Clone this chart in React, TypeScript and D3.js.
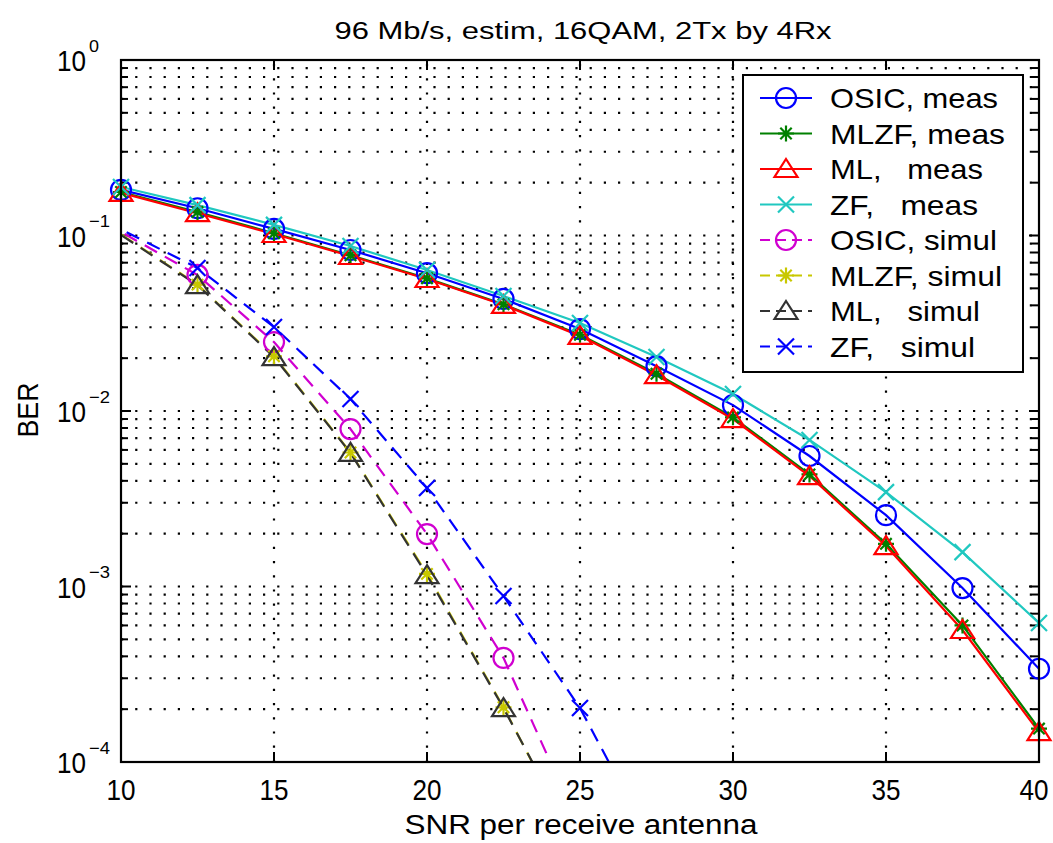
import React from "react";
import * as d3 from "d3";

const TITLE = "96 Mb/s, estim, 16QAM, 2Tx by 4Rx";
const X_LABEL = "SNR per receive antenna";
const Y_LABEL = "BER";
const X_TICKS = [10, 15, 20, 25, 30, 35, 40];
const Y_DECADES = [0, -1, -2, -3, -4];

const SNR_MEAS = [10, 12.5, 15, 17.5, 20, 22.5, 25, 27.5, 30, 32.5, 35, 37.5, 40];
const OSIC_MEAS = [0.182, 0.143, 0.109, 0.0827, 0.061, 0.0435, 0.0293, 0.018, 0.0108, 0.00554, 0.00255, 0.00098, 0.00034];
const MLZF_MEAS = [0.177, 0.136, 0.103, 0.0772, 0.057, 0.0405, 0.0272, 0.0163, 0.0092, 0.00435, 0.00175, 0.0006, 0.000155];
const ML_MEAS = [0.175, 0.134, 0.102, 0.0764, 0.0565, 0.0402, 0.0268, 0.016, 0.009, 0.00426, 0.0017, 0.000565, 0.000148];
const ZF_MEAS = [0.189, 0.149, 0.115, 0.0871, 0.0636, 0.0452, 0.0317, 0.0203, 0.0125, 0.00684, 0.00345, 0.00157, 0.00062];

const SNR_SIM = [7.5, 12.5, 15, 17.5, 20, 22.5, 25, 27.5];
const OSIC_SIM = [0.184, 0.0596, 0.0247, 0.00789, 0.00199, 0.000392, 0.000042];
const MLZF_SIM = [0.196, 0.0525, 0.0205, 0.0058, 0.00118, 0.000205, 0.00003];
const ML_SIM = [0.194, 0.0522, 0.0203, 0.00577, 0.00116, 0.000203, 0.000031];
const ZF_SIM = [0.18, 0.0653, 0.0301, 0.0117, 0.00364, 0.000883, 0.000203, 0.000031];

type Marker = "o" | "*" | "^" | "x";
interface Series { label: string; color: string; marker: Marker; dashed: boolean; xs: number[]; ys: number[]; tl: number; }

const SERIES: Series[] = [
  { label: "OSIC, meas", color: "#0000ff", marker: "o", dashed: false, xs: SNR_MEAS, ys: OSIC_MEAS, tl: 168 },
  { label: "MLZF, meas", color: "#008000", marker: "*", dashed: false, xs: SNR_MEAS, ys: MLZF_MEAS, tl: 175 },
  { label: "ML,   meas", color: "#ff0000", marker: "^", dashed: false, xs: SNR_MEAS, ys: ML_MEAS, tl: 153 },
  { label: "ZF,   meas", color: "#20c8c0", marker: "x", dashed: false, xs: SNR_MEAS, ys: ZF_MEAS, tl: 148 },
  { label: "OSIC, simul", color: "#d000d0", marker: "o", dashed: true, xs: SNR_SIM, ys: OSIC_SIM, tl: 167 },
  { label: "MLZF, simul", color: "#c8c800", marker: "*", dashed: true, xs: SNR_SIM, ys: MLZF_SIM, tl: 172 },
  { label: "ML,   simul", color: "#333333", marker: "^", dashed: true, xs: SNR_SIM, ys: ML_SIM, tl: 150 },
  { label: "ZF,   simul", color: "#0000ff", marker: "x", dashed: true, xs: SNR_SIM, ys: ZF_SIM, tl: 145 },
];

const L = 121, R = 1039, T = 60, B = 762;
const FONT = "'Liberation Sans', Arial, Helvetica, sans-serif";

function MarkerShape({ m, x, y, color }: { m: Marker; x: number; y: number; color: string }) {
  const sw = 2.2;
  if (m === "o") return <circle cx={x} cy={y} r={10} fill="none" stroke={color} strokeWidth={sw} />;
  if (m === "^") return <polygon points={`${x},${y - 10} ${x + 11.5},${y + 8} ${x - 11.5},${y + 8}`} fill="none" stroke={color} strokeWidth={sw} />;
  if (m === "x") { const s = 8; return <path d={`M${x - s},${y - s}L${x + s},${y + s}M${x - s},${y + s}L${x + s},${y - s}`} stroke={color} strokeWidth={sw} />; }
  const s = 8, d = 5.7;
  return <path d={`M${x},${y - s}L${x},${y + s}M${x - s},${y}L${x + s},${y}M${x - d},${y - d}L${x + d},${y + d}M${x - d},${y + d}L${x + d},${y - d}`} stroke={color} strokeWidth={sw} />;
}

export default function App() {
  const x = d3.scaleLinear().domain([10, 40]).range([L, R]);
  const y = d3.scaleLog().domain([1e-4, 1]).range([B, T]);
  const line = d3.line<[number, number]>().x(d => x(d[0])).y(d => y(d[1]));

  const minorVals: number[] = [];
  for (let e = -4; e < 0; e++) for (let k = 2; k <= 9; k++) minorVals.push(k * Math.pow(10, e));
  const majorVals = Y_DECADES.map(e => Math.pow(10, e));

  const dot = { stroke: "#000", strokeWidth: 2.2, strokeDasharray: "2.2,12" };
  const legRows = SERIES.map((_, i) => 98 + i * 35.5);

  return (
    <svg width={1053} height={843} style={{ display: "block", position: "absolute", left: 0, top: 0, background: "#fff" }} fontFamily={FONT}>
      <defs>
        <clipPath id="plotclip"><rect x={L} y={T} width={R - L} height={B - T} /></clipPath>
      </defs>
      <rect x={0} y={0} width={1053} height={843} fill="#fff" />
      {[...minorVals, ...majorVals.slice(1, 4)].map((v, i) => (
        <line key={"hg" + i} x1={L} x2={R} y1={y(v)} y2={y(v)} {...dot} />
      ))}
      {X_TICKS.slice(1, -1).map(t => (
        <line key={"vg" + t} x1={x(t)} x2={x(t)} y1={B} y2={T} {...dot} />
      ))}
      {X_TICKS.map(t => (
        <g key={"xt" + t}>
          <line x1={x(t)} x2={x(t)} y1={B} y2={B - 10} stroke="#000" strokeWidth={2} />
          <line x1={x(t)} x2={x(t)} y1={T} y2={T + 10} stroke="#000" strokeWidth={2} />
          <text x={Math.min(x(t), 1034)} y={800} textAnchor="middle" fontSize={30} textLength={29} lengthAdjust="spacingAndGlyphs">{t}</text>
        </g>
      ))}
      {minorVals.map((v, i) => (
        <g key={"ym" + i}>
          <line x1={L} x2={L + 7} y1={y(v)} y2={y(v)} stroke="#000" strokeWidth={2} />
          <line x1={R} x2={R - 7} y1={y(v)} y2={y(v)} stroke="#000" strokeWidth={2} />
        </g>
      ))}
      {Y_DECADES.map(e => {
        const yy = y(Math.pow(10, e));
        return (
          <g key={"yM" + e}>
            <line x1={L} x2={L + 10} y1={yy} y2={yy} stroke="#000" strokeWidth={2} />
            <line x1={R} x2={R - 10} y1={yy} y2={yy} stroke="#000" strokeWidth={2} />
            <text x={57} y={yy + 11} fontSize={30} textLength={29} lengthAdjust="spacingAndGlyphs">10</text>
            <text x={89} y={yy - 8.5} fontSize={17} textLength={e === 0 ? 10 : 21} lengthAdjust="spacingAndGlyphs">{e === 0 ? "0" : "\u2212" + (-e)}</text>
          </g>
        );
      })}
      <g clipPath="url(#plotclip)">
        {SERIES.map((s, i) => {
          const pts: [number, number][] = s.ys.map((v, j) => [s.xs[j], v]);
          return <path key={"ln" + i} d={line(pts) || ""} fill="none" stroke={s.color} strokeWidth={2.2} strokeDasharray={s.dashed ? "14,9" : undefined} />;
        })}
      </g>
      {SERIES.map((s, i) => (
        <g key={"mk" + i}>
          {s.ys.map((v, j) => (s.xs[j] >= 10 && s.xs[j] <= 40 && v >= 1e-4 ?
            <MarkerShape key={j} m={s.marker} x={x(s.xs[j])} y={y(v)} color={s.color} /> : null))}
        </g>
      ))}
      <rect x={L} y={T} width={R - L} height={B - T} fill="none" stroke="#000" strokeWidth={2.2} />
      <rect x={743} y={75} width={280} height={297} fill="#fff" stroke="#000" strokeWidth={2} />
      {SERIES.map((s, i) => (
        <g key={"lg" + i}>
          <line x1={760} x2={812} y1={legRows[i]} y2={legRows[i]} stroke={s.color} strokeWidth={2.2} strokeDasharray={s.dashed ? "10,6" : undefined} />
          <MarkerShape m={s.marker} x={786} y={legRows[i]} color={s.color} />
          <text x={830} y={legRows[i] + 10} fontSize={28} style={{ whiteSpace: "pre" }} textLength={s.tl} lengthAdjust="spacingAndGlyphs">{s.label}</text>
        </g>
      ))}
      <text x={583} y={39} textAnchor="middle" fontSize={23} textLength={497} lengthAdjust="spacingAndGlyphs">{TITLE}</text>
      <text x={581} y={834} textAnchor="middle" fontSize={27} textLength={353} lengthAdjust="spacingAndGlyphs">{X_LABEL}</text>
      <text transform="translate(38,410) rotate(-90)" textAnchor="middle" fontSize={29} textLength={55} lengthAdjust="spacingAndGlyphs">{Y_LABEL}</text>
    </svg>
  );
}
